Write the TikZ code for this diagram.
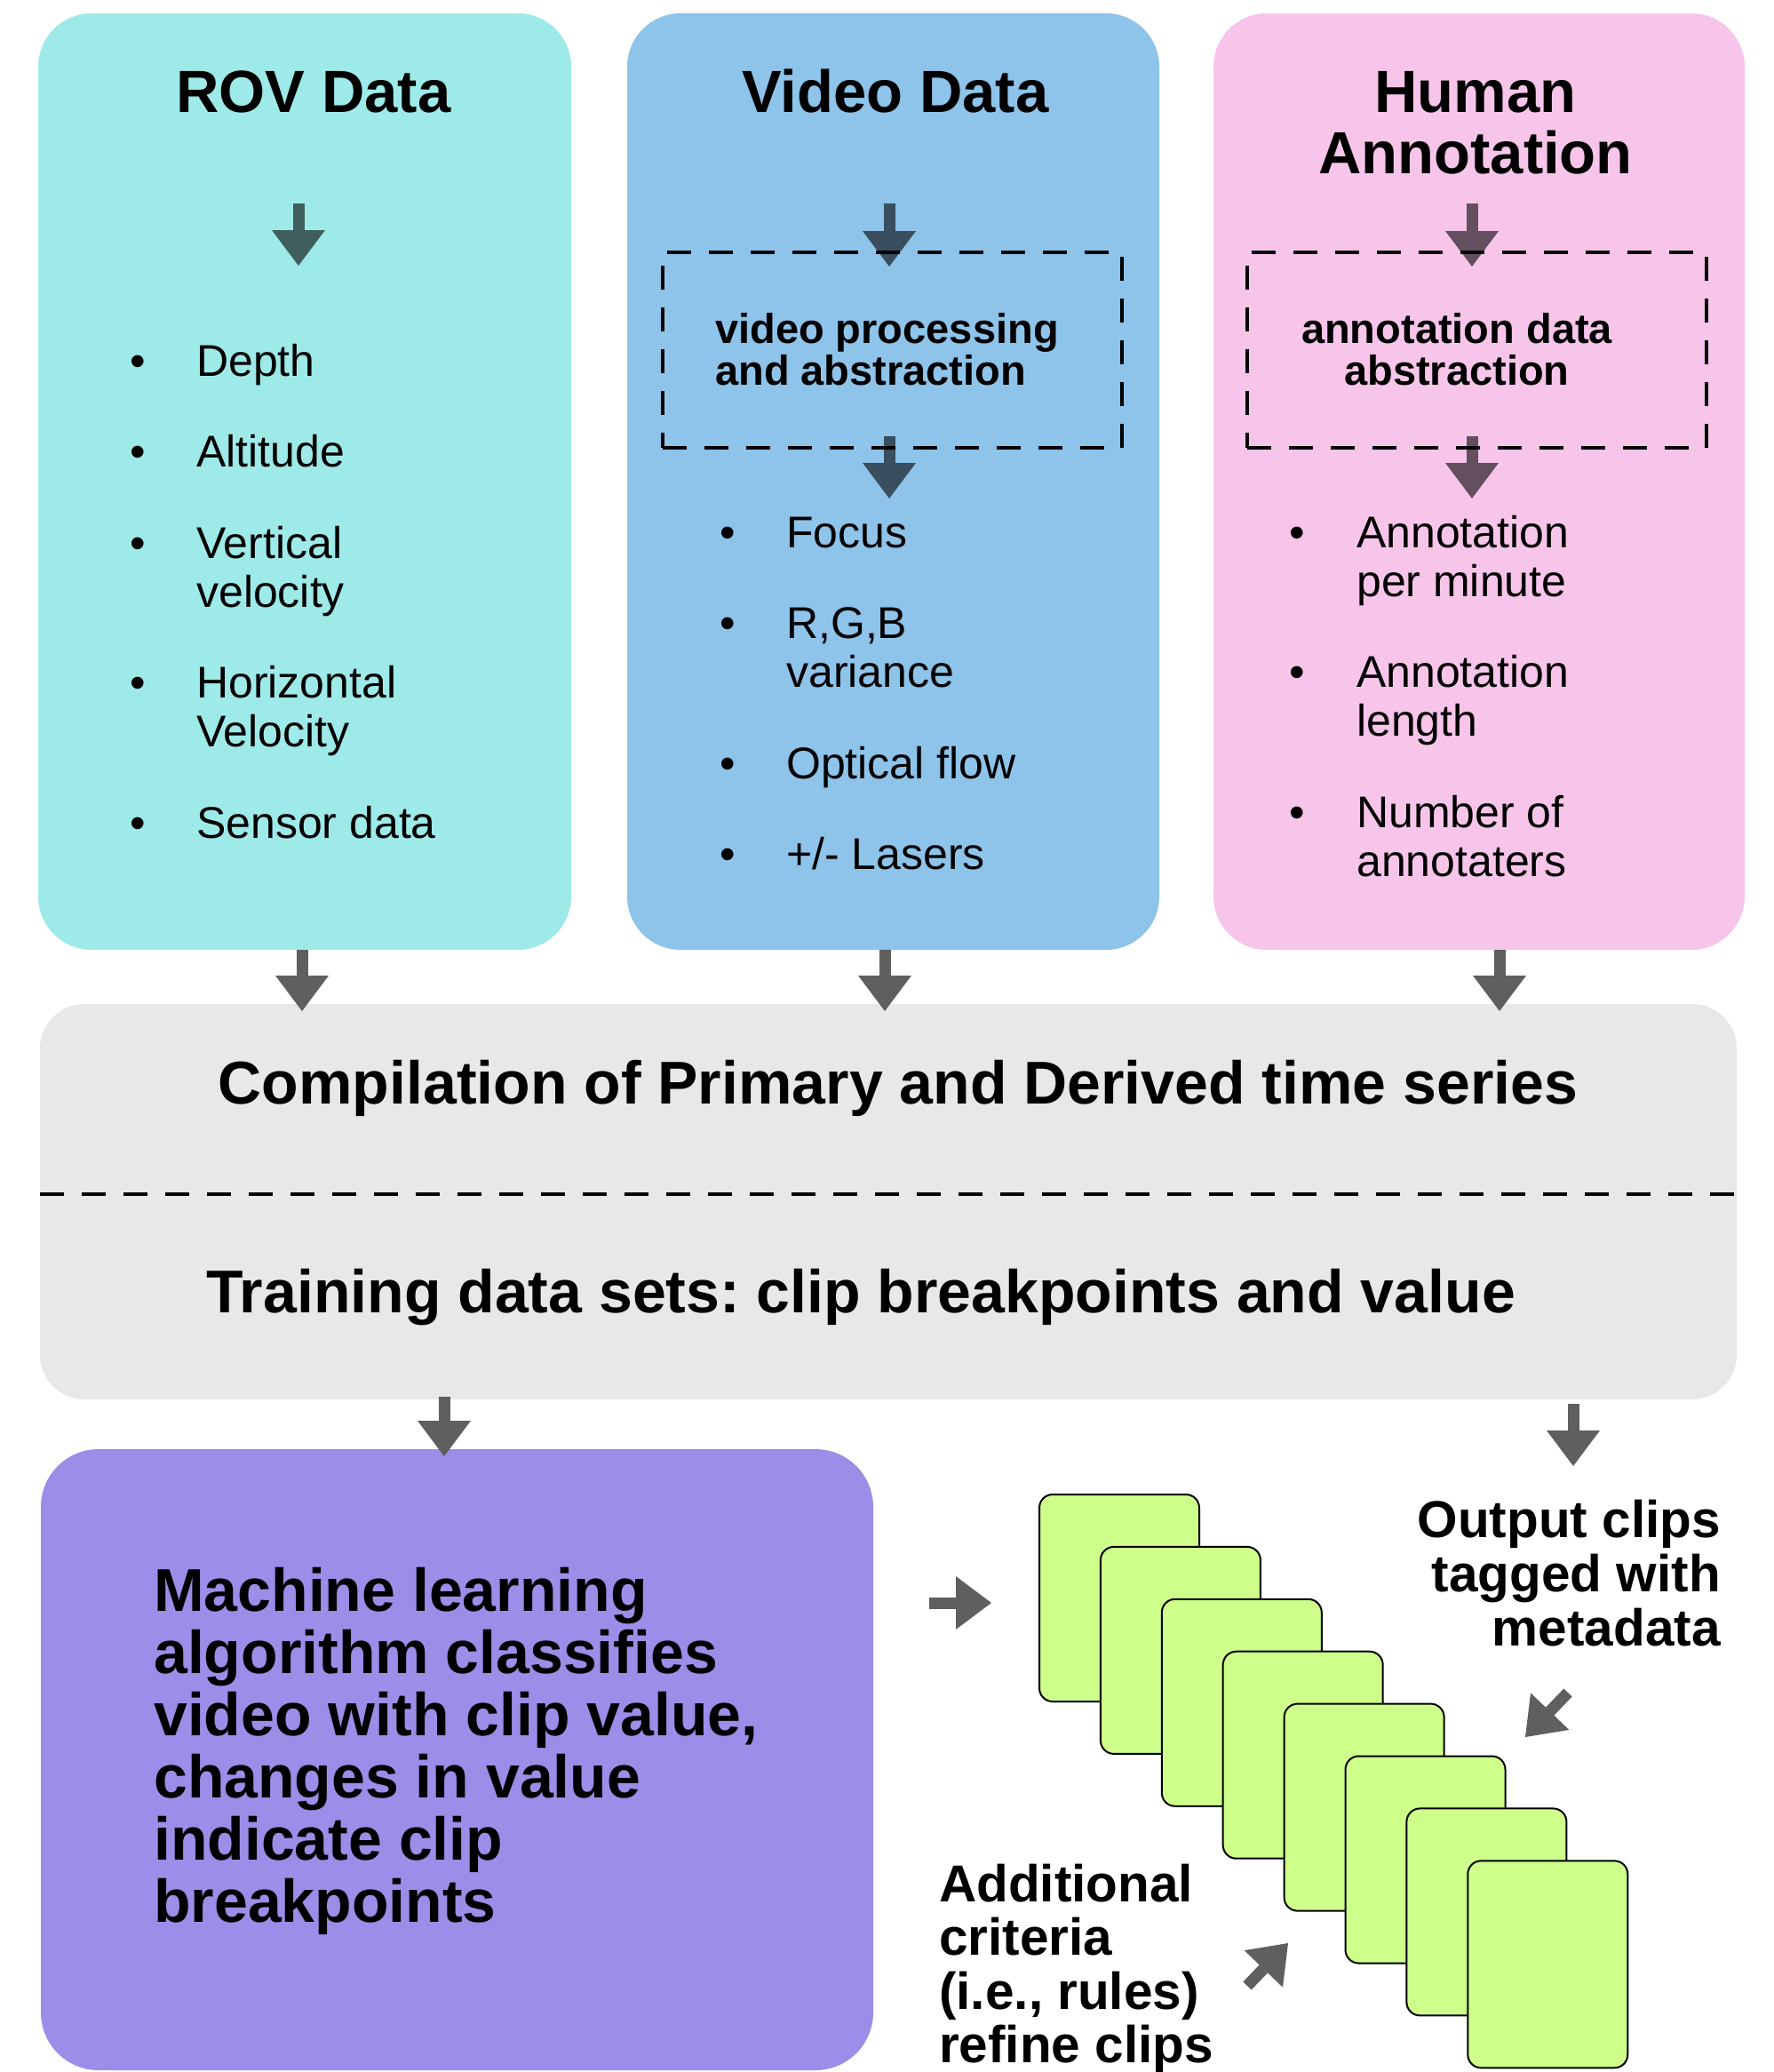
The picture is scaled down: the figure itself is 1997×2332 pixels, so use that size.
\documentclass[tikz,border=0pt]{standalone}
\usepackage{fontspec}
\setmainfont{Liberation Sans}
\usetikzlibrary{arrows.meta}
\frenchspacing
\definecolor{rovc}{HTML}{9EEAE9}
\definecolor{vidc}{HTML}{8EC3EA}
\definecolor{humc}{HTML}{F7C5EA}
\definecolor{compc}{HTML}{E8E8E8}
\definecolor{mlc}{HTML}{9C8DE8}
\definecolor{clipc}{HTML}{CEFF8A}
\definecolor{arrg}{HTML}{5F5F5F}
\definecolor{arrr}{HTML}{3F5E5D}
\definecolor{arrv}{HTML}{394E5E}
\definecolor{arrh}{HTML}{634F5E}
\newcommand{\fsz}[2]{\fontsize{#1}{#2}\selectfont}
\tikzset{
  panel/.style={rectangle, inner sep=0pt, outer sep=0pt, draw=none},
  dashbox/.style={rectangle, inner sep=0pt, draw=black, line width=3.5pt, dash pattern=on 27pt off 20pt},
  sepline/.style={draw=black, line width=3.5pt, dash pattern=on 27pt off 20pt},
  titletext/.style={inner sep=0pt, font=\fsz{67}{69}\bfseries, align=center},
  comptext/.style={inner sep=0pt, font=\fsz{68}{70}\bfseries},
  listtext/.style={inner sep=0pt, font=\fsz{50}{55}},
  proctext/.style={inner sep=0pt, font=\fsz{47}{47}\bfseries},
  bigtext/.style={inner sep=0pt, font=\fsz{68}{70}\bfseries},
  sidetext/.style={inner sep=0pt, font=\fsz{58.5}{61}\bfseries},
  clipcard/.style={rectangle, inner sep=0pt, fill=clipc, draw=black, line width=2pt, rounded corners=15pt, minimum width=180pt, minimum height=233pt},
  fatarrow/.style={line width=13pt, draw=#1, -{Triangle[length=40pt,width=60pt,line width'=0pt]}},
}
\begin{document}
\begin{tikzpicture}[x=1pt,y=-1pt]
\useasboundingbox (0,0) rectangle (1997,2332);

% ---------- main panels
\node[panel, fill=rovc, minimum width=600pt, minimum height=1054pt, rounded corners=60pt] (rov) at (343,542) {};
\node[panel, fill=vidc, minimum width=599pt, minimum height=1054pt, rounded corners=60pt] (video) at (1005.5,542) {};
\node[panel, fill=humc, minimum width=598pt, minimum height=1054pt, rounded corners=60pt] (human) at (1665,542) {};
\node[panel, fill=compc, minimum width=1910pt, minimum height=445pt, rounded corners=50pt] (comp) at (1000,1352.5) {};
\node[panel, fill=mlc, minimum width=937pt, minimum height=699pt, rounded corners=65pt] (ml) at (514.5,1980.5) {};

% ---------- titles (base anchor = baseline of the last line)
\node[titletext, anchor=base] (rovt) at (353,126) {ROV Data};
\node[titletext, anchor=base] (vidt) at (1008,126) {Video Data};
\node[titletext, anchor=base] (humt) at (1661,195) {Human\\Annotation};

% ---------- inner arrows
\coordinate (ra1) at (336,229);  \coordinate (ra2) at (336,299);
\coordinate (va1) at (1001,229); \coordinate (va2) at (1001,300);
\coordinate (va3) at (1001,491); \coordinate (va4) at (1001,561);
\coordinate (ha1) at (1657,229); \coordinate (ha2) at (1657,300);
\coordinate (ha3) at (1657,491); \coordinate (ha4) at (1657,561);
\draw[fatarrow=arrr] (ra1) -- (ra2);
\draw[fatarrow=arrv] (va1) -- (va2);
\draw[fatarrow=arrv] (va3) -- (va4);
\draw[fatarrow=arrh] (ha1) -- (ha2);
\draw[fatarrow=arrh] (ha3) -- (ha4);

% ---------- dashed processing boxes
\node[dashbox, minimum width=517pt, minimum height=220pt] (vdash) at (1004.5,394) {};
\node[dashbox, minimum width=517pt, minimum height=220pt] (hdash) at (1662.5,394) {};
\node[proctext, anchor=base west, align=left] (vproc) at (805,433) {video processing\\and abstraction};
\node[proctext, anchor=base, align=center] (hproc) at (1640,433) {annotation data\\abstraction};

% ---------- lists
\node[listtext, anchor=base west] (rovl) at (146,423) {\begin{tabular}[t]{@{}p{75pt}@{}l@{}}
•&Depth\\[47.5pt]
•&Altitude\\[47.5pt]
•&Vertical\\
&velocity\\[47.5pt]
•&Horizontal\\
&Velocity\\[47.5pt]
•&Sensor data
\end{tabular}};
\node[listtext, anchor=base west] (vidl) at (810,616) {\begin{tabular}[t]{@{}p{75pt}@{}l@{}}
•&Focus\\[47.5pt]
•&R,G,B\\
&variance\\[47.5pt]
•&Optical flow\\[47.5pt]
•&+/- Lasers
\end{tabular}};
\node[listtext, anchor=base west] (huml) at (1451,616) {\begin{tabular}[t]{@{}p{76pt}@{}l@{}}
•&Annotation\\
&per minute\\[47.5pt]
•&Annotation\\
&length\\[47.5pt]
•&Number of\\
&annotaters
\end{tabular}};

% ---------- panels to compilation
\coordinate (o1a) at (340,1069);  \coordinate (o1b) at (340,1138);
\coordinate (o2a) at (996,1069);  \coordinate (o2b) at (996,1138);
\coordinate (o3a) at (1688,1069); \coordinate (o3b) at (1688,1138);
\draw[fatarrow=arrg] (o1a) -- (o1b);
\draw[fatarrow=arrg] (o2a) -- (o2b);
\draw[fatarrow=arrg] (o3a) -- (o3b);

% ---------- compilation panel text
\node[comptext, anchor=base] (compt) at (1011,1242) {Compilation of Primary and Derived time series};
\coordinate (sepL) at (45,1344); \coordinate (sepR) at (1955,1344);
\draw[sepline] (sepL) -- (sepR);
\node[comptext, anchor=base] (traint) at (969,1477) {Training data sets: clip breakpoints and value};

% ---------- compilation to ML and outputs
\coordinate (d1a) at (500,1572);  \coordinate (d1b) at (500,1639);
\coordinate (d2a) at (1771,1580); \coordinate (d2b) at (1771,1650);
\draw[fatarrow=arrg] (d1a) -- (d1b);
\draw[fatarrow=arrg] (d2a) -- (d2b);

% ---------- ML text
\node[bigtext, anchor=base west, align=left] (mlt) at (173,2163) {Machine learning\\algorithm classifies\\video with clip value,\\changes in value\\indicate clip\\breakpoints};

% ---------- clip stack
\foreach \i in {1,...,8} {
  \node[clipcard] (c\i) at ({1260+68.9*(\i-1)},{1798.5+58.9*(\i-1)}) {};
}

% ---------- side texts
\node[sidetext, anchor=base east, align=right] (outt) at (1937,1852) {Output clips\\tagged with\\metadata};
\node[sidetext, anchor=base west, align=left, font=\fsz{58.5}{60.5}\bfseries] (addt) at (1057,2321.5) {Additional\\criteria\\(i.e., rules)\\refine clips};

% ---------- arrows to clips
\coordinate (h1a) at (1046,1804); \coordinate (h1b) at (1116,1804);
\coordinate (g1a) at (1765,1905); \coordinate (g1b) at (1717,1955);
\coordinate (g2a) at (1404,2235); \coordinate (g2b) at (1450,2187);
\draw[fatarrow=arrg] (h1a) -- (h1b);
\draw[fatarrow=arrg] (g1a) -- (g1b);
\draw[fatarrow=arrg] (g2a) -- (g2b);
\end{tikzpicture}
\end{document}
